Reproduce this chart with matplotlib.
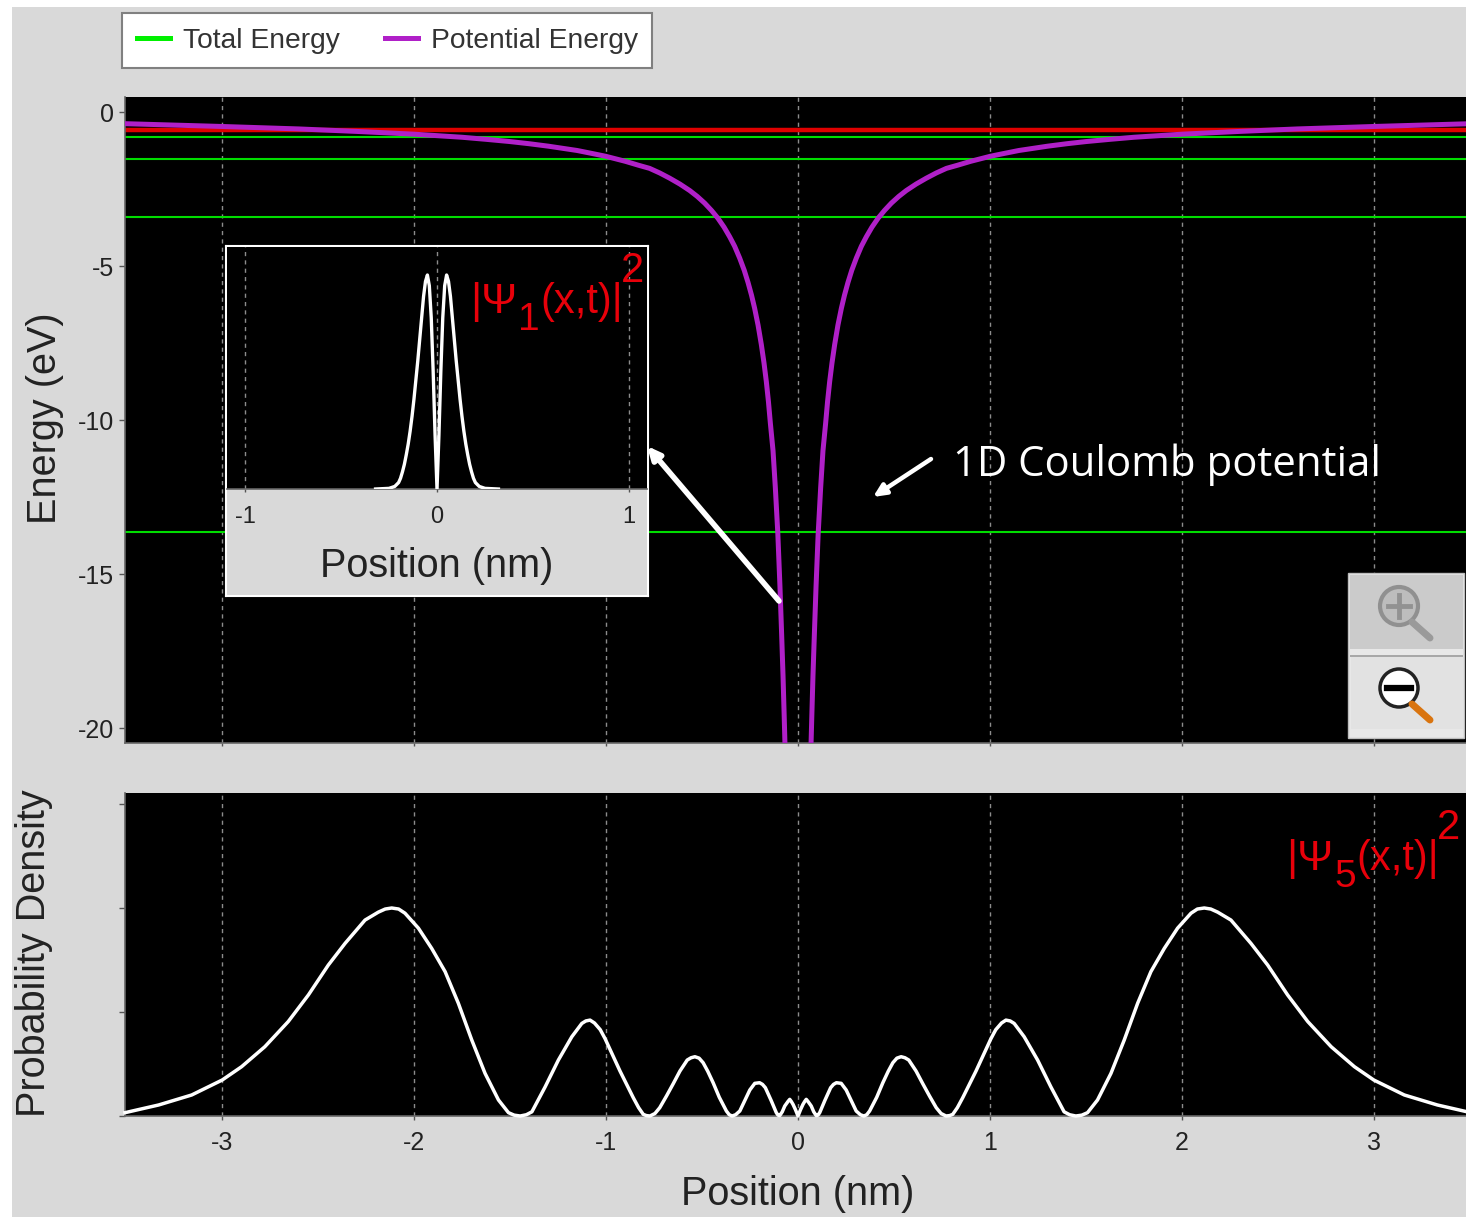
import numpy as np
import matplotlib
matplotlib.use("Agg")
import matplotlib.pyplot as plt
from matplotlib.lines import Line2D
from matplotlib.patches import Rectangle, Circle

plt.rcParams['font.family'] = ['Liberation Sans', 'DejaVu Sans']

# ---- data ----
total_energy_levels = [-13.64, -3.41, -1.53, -0.81]
top_level = -0.58
x_ticks = [-3, -2, -1, 0, 1, 2, 3]
energy_ticks = [0, -5, -10, -15, -20]
inset_ticks = [-1, 0, 1]

pot_x = [0.068, 0.072, 0.078, 0.085, 0.094, 0.105, 0.118, 0.130, 0.144, 0.154, 0.165, 0.177, 0.191, 0.208, 0.226,
         0.242, 0.26, 0.28, 0.304, 0.33, 0.356, 0.385, 0.417, 0.45, 0.486, 0.525, 0.564, 0.615, 0.668, 0.72, 0.773,
         0.83, 0.90, 1.00, 1.07, 1.15, 1.30, 1.40, 1.50, 1.62, 1.75, 2.00, 2.30, 2.60, 3.00, 3.50]
pot_v = [-20.5, -19.6, -18.3, -17.0, -15.4, -13.7, -12.2, -11.0, -10.1, -9.4, -8.75, -8.15, -7.55, -6.92, -6.37,
         -5.95, -5.54, -5.14, -4.74, -4.36, -4.05, -3.74, -3.45, -3.2, -2.96, -2.74, -2.55, -2.34, -2.15, -1.98, -1.83,
         -1.73, -1.6, -1.44, -1.35, -1.25, -1.11, -1.03, -0.96, -0.89, -0.82, -0.72, -0.63, -0.55, -0.47, -0.38]

psi5_x = [0.0, 0.013, 0.026, 0.035, 0.043, 0.052, 0.069, 0.082, 0.095, 0.104, 0.113, 0.14, 0.17, 0.185, 0.2, 0.225,
          0.251, 0.277, 0.303, 0.325, 0.343, 0.358, 0.373, 0.41, 0.442, 0.47, 0.494, 0.515, 0.537, 0.557, 0.577,
          0.615, 0.65, 0.685, 0.72, 0.745, 0.771, 0.79, 0.806, 0.83, 0.858, 0.927, 0.979, 1.005, 1.03, 1.06, 1.083,
          1.105, 1.126, 1.178, 1.248, 1.317, 1.386, 1.415, 1.447, 1.478, 1.508, 1.56, 1.63, 1.699, 1.769, 1.838,
          1.908, 1.977, 2.047, 2.08, 2.116, 2.15, 2.186, 2.255, 2.359, 2.446, 2.55, 2.655, 2.777, 2.898, 2.999,
          3.158, 3.33, 3.505]
psi5_d = [0.0, 0.03, 0.056, 0.07, 0.08, 0.07, 0.048, 0.02, 0.002, 0.004, 0.016, 0.075, 0.136, 0.152, 0.16, 0.157,
          0.125, 0.075, 0.024, 0.006, 0.0, 0.006, 0.024, 0.09, 0.16, 0.215, 0.256, 0.278, 0.285, 0.28, 0.269,
          0.216, 0.155, 0.096, 0.04, 0.012, 0.0, 0.002, 0.008, 0.04, 0.088, 0.216, 0.32, 0.372, 0.415, 0.447, 0.461,
          0.457, 0.445, 0.381, 0.269, 0.14, 0.02, 0.006, 0.0, 0.004, 0.016, 0.077, 0.205, 0.365, 0.542, 0.694,
          0.806, 0.903, 0.975, 0.995, 1.0, 0.995, 0.98, 0.942, 0.83, 0.726, 0.582, 0.454, 0.333, 0.237, 0.173,
          0.101, 0.053, 0.016]

psi1_x = [0.0, 0.01, 0.02, 0.03, 0.04, 0.05, 0.06, 0.07, 0.08, 0.09, 0.10, 0.11, 0.12, 0.13, 0.14, 0.15, 0.16, 0.17,
          0.18, 0.19, 0.20, 0.22, 0.25, 0.32]
psi1_d = [0.0, 0.25, 0.55, 0.80, 0.95, 1.0, 0.97, 0.90, 0.80, 0.70, 0.60, 0.51, 0.42, 0.34, 0.27, 0.21, 0.16, 0.115,
          0.08, 0.05, 0.03, 0.012, 0.003, 0.0]

W, H = 1466, 1217
GRAY = '#d9d9d9'
TXT = '#222222'


def box(x0, y0, x1, y1):
    return [x0 / W, 1 - y1 / H, (x1 - x0) / W, (y1 - y0) / H]


def mirror(x, y):
    x = np.asarray(x); y = np.asarray(y)
    return np.r_[-x[::-1], x], np.r_[y[::-1], y]


def mirror_gap(x, y):
    x = np.asarray(x); y = np.asarray(y)
    return np.r_[-x[::-1], np.nan, x], np.r_[y[::-1], np.nan, y]


fig = plt.figure(figsize=(W / 100, H / 100), dpi=100, facecolor='white')

bg = fig.add_axes([0, 0, 1, 1], zorder=0)
bg.set_xlim(0, W); bg.set_ylim(H, 0); bg.axis('off')
bg.add_patch(Rectangle((12, 7), W - 12, H - 7, fc=GRAY, ec='none'))


def style(ax):
    ax.set_facecolor('black')
    for s in ('top', 'right'):
        ax.spines[s].set_visible(False)
    for s in ('left', 'bottom'):
        ax.spines[s].set_color('#666666')
        ax.spines[s].set_linewidth(1.2)
    ax.tick_params(colors=TXT, length=4, width=1, color='#555555')
    ax.set_axisbelow(True)
    ax.grid(axis='x', color='#8c8c8c', ls=(0, (3, 3)), lw=1)


XLIM = ((125 - 798) / 192, (1466 - 798) / 192)

# ---- energy panel ----
ax = fig.add_axes(box(125, 97, 1466, 743), zorder=1)
style(ax)
ax.set_xlim(*XLIM)
ax.set_ylim((112 - 743) / 30.8, (112 - 97) / 30.8)
for e in total_energy_levels:
    ax.axhline(e, color='#00dd00', lw=1.5, zorder=2)
ax.axhline(top_level, color='#e00000', lw=3.2, zorder=2)
px, pv = mirror_gap(pot_x, pot_v)
ax.plot(px, pv, color='#b020c8', lw=3.6, zorder=3, solid_joinstyle='round')
ax.set_xticks(x_ticks)
ax.set_xticklabels([])
ax.set_yticks(energy_ticks)
ax.set_yticklabels([str(v) for v in energy_ticks], fontsize=18)
ax.tick_params(axis='x', length=2)
ax.tick_params(axis='y', pad=4)

handles = [Line2D([], [], color='#00f000', lw=3.6), Line2D([], [], color='#b020c8', lw=3.6)]
leg = fig.legend(handles, ['Total Energy', 'Potential Energy'], ncol=2, fontsize=20.3,
                 loc='upper left', bbox_to_anchor=(122 / W, 1 - 13 / H), bbox_transform=fig.transFigure,
                 frameon=True, fancybox=False, framealpha=1, edgecolor='#808080', facecolor='white',
                 handlelength=1.2, handletextpad=0.43, columnspacing=1.6, borderpad=0.52, borderaxespad=0,
                 labelcolor='#333333')
leg.get_frame().set_linewidth(1.5)
leg.set_zorder(3)

# ---- probability panel ----
ax2 = fig.add_axes(box(125, 793, 1466, 1116), zorder=1)
style(ax2)
ax2.set_xlim(*XLIM)
ax2.set_ylim(0, (1116 - 793) / 208)
dx, dy = mirror(psi5_x, psi5_d)
ax2.plot(dx, dy, color='white', lw=2.5, solid_joinstyle='round', zorder=3, clip_on=False)
ax2.set_xticks(x_ticks)
ax2.set_xticklabels([str(v) for v in x_ticks], fontsize=18)
ax2.set_yticks([0, 0.5, 1.0, 1.5])
ax2.set_yticklabels([])
ax2.tick_params(axis='x', pad=8, length=3)

bg.text(798, 1194, 'Position (nm)', fontsize=28.5, color=TXT, ha='center', va='center')
bg.text(45, 418, 'Energy (eV)', fontsize=28.5, color=TXT, ha='center', va='center', rotation=90)
bg.text(34, 953, 'Probability Density', fontsize=28.5, color=TXT, ha='center', va='center', rotation=90)

# ---- inset ----
panel = fig.add_axes(box(226, 246, 648, 596), zorder=5)
panel.set_facecolor(GRAY)
panel.set_xticks([]); panel.set_yticks([])
for s in panel.spines.values():
    s.set_color('white'); s.set_linewidth(1.5)

ins = fig.add_axes(box(227, 247, 647, 489), zorder=6)
style(ins)
ins.spines['left'].set_visible(False)
ins.set_xlim((227 - 437) / 192, (647 - 437) / 192)
ins.set_ylim(0, (489 - 247) / 214)
ix, iy = mirror(psi1_x, psi1_d)
ins.plot(ix, iy, color='white', lw=2.4, zorder=3)
ins.set_xticks(inset_ticks)
ins.set_xticklabels([str(v) for v in inset_ticks], fontsize=17)
ins.set_yticks([])
ins.tick_params(axis='x', length=2, pad=10)
ins.set_xlabel('Position (nm)', fontsize=28.5, color=TXT, labelpad=14)

# ---- overlay: annotations and zoom buttons ----
ov = fig.add_axes([0, 0, 1, 1], zorder=10)
ov.set_xlim(0, W); ov.set_ylim(H, 0); ov.axis('off')
RED = '#e8000a'


def psi_label(x, y, n):
    ov.text(x, y, '|Ψ', color=RED, fontsize=31, ha='left', va='baseline')
    ov.text(x + 48, y + 17, n, color=RED, fontsize=28, ha='left', va='baseline')
    ov.text(x + 70, y, '(x,t)|', color=RED, fontsize=30, ha='left', va='baseline')
    ov.text(x + 151, y - 31, '2', color=RED, fontsize=30, ha='left', va='baseline')


psi_label(470, 313, '1')
psi_label(1286, 870, '5')

ov.text(953, 465, '1D Coulomb potential', color='white', fontsize=30.2, family='Open Sans',
        ha='left', va='center')
ov.annotate('', xy=(873, 497), xytext=(931, 459),
            arrowprops=dict(arrowstyle='-|>,head_width=0.35,head_length=0.75', color='white', lw=3.2,
                            shrinkA=0, shrinkB=0))
ov.annotate('', xy=(647, 446), xytext=(779, 601),
            arrowprops=dict(arrowstyle='-|>,head_width=0.35,head_length=0.75', color='white', lw=4,
                            shrinkA=0, shrinkB=0))

ov.add_patch(Rectangle((1348, 573), 116, 165, fc='#e8e8e8', ec='#bdbdbd', lw=1))
ov.add_patch(Rectangle((1350, 575), 113, 74, fc='#cbcbcb', ec='none'))
ov.add_patch(Rectangle((1351, 657), 112, 72, fc='#e2e2e2', ec='none'))
ov.add_patch(Rectangle((1350, 655), 113, 2, fc='#a8a8a8', ec='none'))
ov.plot([1412, 1430], [622, 638], color='#9a9a9a', lw=5, solid_capstyle='round')
ov.add_patch(Circle((1399, 606), 19, fc='#bdbdbd', ec='#909090', lw=3))
ov.plot([1388, 1410], [606, 606], color='#929292', lw=3.5)
ov.plot([1399, 1399], [595, 617], color='#929292', lw=3.5)
ov.plot([1412, 1430], [704, 720], color='#d9740f', lw=5, solid_capstyle='round')
ov.add_patch(Circle((1399, 688), 19, fc='white', ec='#222222', lw=2.5))
ov.plot([1387, 1411], [688, 688], color='black', lw=4.5)

fig.savefig('out.png', dpi=100, facecolor=fig.get_facecolor())
